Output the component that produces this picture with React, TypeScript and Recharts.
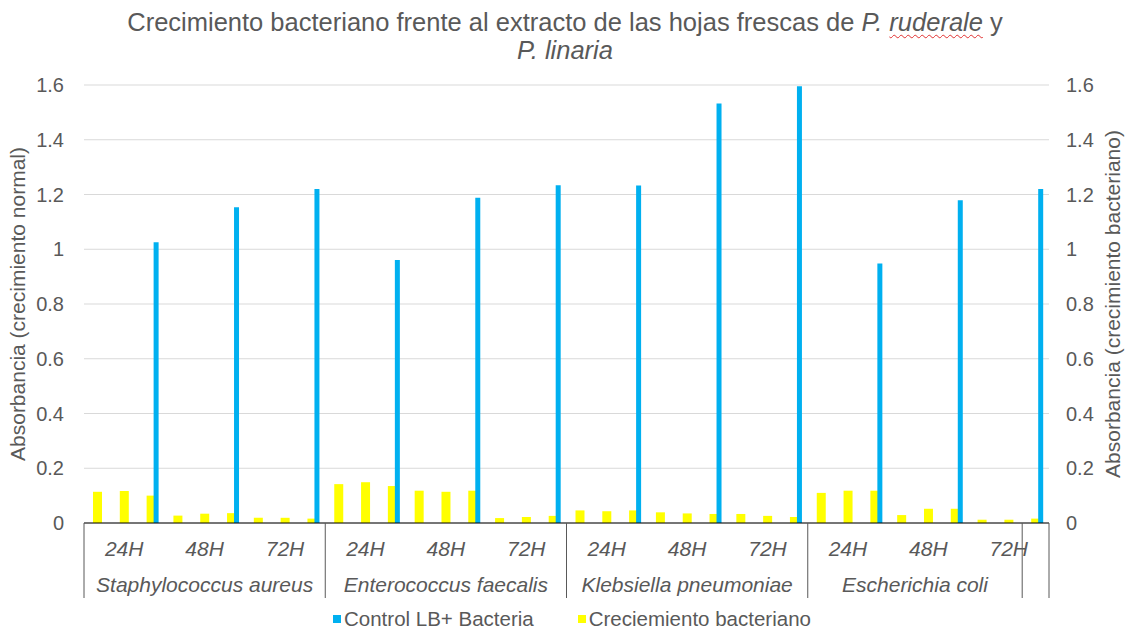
import React from "react";
import { BarChart, Bar, XAxis, YAxis, CartesianGrid, Legend } from "recharts";

const bacteria = ["Staphylococcus aureus", "Enterococcus faecalis", "Klebsiella pneumoniae", "Escherichia coli"];
const times = ["24H", "48H", "72H"];
// Control LB+ Bacteria: one value per bacterium x time (drawn on 3rd replicate slot)
const controlLB = [1.026, 1.153, 1.22, 0.961, 1.188, 1.234, 1.233, 1.532, 1.595, 0.948, 1.179, 1.22];
// Creciemiento bacteriano: 3 replicates per bacterium x time
const growth = [
  0.114, 0.117, 0.1, 0.027, 0.034, 0.036, 0.019, 0.019, 0.016,
  0.142, 0.149, 0.135, 0.118, 0.114, 0.118, 0.018, 0.022, 0.026,
  0.046, 0.043, 0.046, 0.039, 0.035, 0.033, 0.033, 0.026, 0.022,
  0.11, 0.118, 0.118, 0.029, 0.052, 0.052, 0.012, 0.012, 0.016,
];
// outer category level as drawn (last slot falls in a separate blank group)
const groupLabels = [...bacteria, ""];
const groupSpans = [9, 9, 9, 8, 1];
const yTicks = [0, 0.2, 0.4, 0.6, 0.8, 1, 1.2, 1.4, 1.6];
const seriesNames = ["Control LB+ Bacteria", "Creciemiento bacteriano"];
const seriesColors = ["#00B0F0", "#FFFF00"];

const data = [];
for (let b = 0; b < bacteria.length; b++) {
  for (let t = 0; t < times.length; t++) {
    for (let r = 0; r < 3; r++) {
      const i = b * 9 + t * 3 + r;
      data.push({
        id: `c${i}`,
        time: times[t],
        growth: growth[i],
        control: r === 2 ? controlLB[b * 3 + t] : null,
      });
    }
  }
}

const groupStarts: number[] = [];
{
  let acc = 0;
  for (const s of groupSpans) {
    groupStarts.push(acc);
    acc += s;
  }
}

const FONT = "'Liberation Sans', Arial, sans-serif";
const TEXT = "#595959";

const CategoryTick = (props: any) => {
  const { x, y, payload } = props;
  const index = props.index ?? payload.index;
  const half = payload.offset ?? 13.4;
  const items: React.ReactNode[] = [];
  if (index % 3 === 1) {
    items.push(
      <text key="t" x={x} y={y + 33} textAnchor="middle" fontSize={21} fontStyle="italic" fill={TEXT} fontFamily={FONT}>
        {data[index].time}
      </text>
    );
  }
  const g = groupStarts.indexOf(index);
  if (g >= 0) {
    const left = x - half;
    items.push(<line key="l" x1={left} x2={left} y1={y} y2={y + 75} stroke="#595959" strokeWidth={1} />);
    if (groupLabels[g]) {
      items.push(
        <text key="g" x={left + groupSpans[g] * half} y={y + 69} textAnchor="middle" fontSize={21} fontStyle="italic" fill={TEXT} fontFamily={FONT}>
          {groupLabels[g]}
        </text>
      );
    }
  }
  if (index === data.length - 1) {
    items.push(<line key="r" x1={x + half} x2={x + half} y1={y} y2={y + 75} stroke="#595959" strokeWidth={1} />);
  }
  return <g>{items}</g>;
};

const LegendContent = (p: any) => {
  const entries = (p.payload || []).filter((e: any) => seriesNames.includes(e.value));
  entries.sort((a: any, b: any) => seriesNames.indexOf(a.value) - seriesNames.indexOf(b.value));
  return (
    <div style={{ display: "flex", alignItems: "center", fontFamily: FONT, fontSize: 20.5, color: TEXT, whiteSpace: "nowrap" }}>
      {entries.map((e: any, i: number) => (
        <div key={i} style={{ display: "flex", alignItems: "center", marginRight: 44 }}>
          <span style={{ display: "inline-block", width: 8, height: 8, background: e.color, marginRight: 3 }} />
          <span>{e.value}</span>
        </div>
      ))}
    </div>
  );
};

export default function App() {
  return (
    <div style={{ position: "absolute", left: 0, top: 0, width: 1130, height: 633, background: "#fff" }}>
      <div
        style={{
          position: "absolute",
          left: 0,
          top: 8,
          width: 1130,
          textAlign: "center",
          fontFamily: FONT,
          fontSize: 25.5,
          lineHeight: "28px",
          color: TEXT,
          zIndex: 2,
        }}
      >
        Crecimiento bacteriano frente al extracto de las hojas frescas de{" "}
        <i>
          P.{" "}
          <span style={{ textDecoration: "underline wavy #e03030", textDecorationThickness: "1px", textUnderlineOffset: "3px" }}>
            ruderale
          </span>
        </i>{" "}
        y
        <br />
        <i>P. linaria</i>
      </div>
      <BarChart
        width={1130}
        height={633}
        data={data}
        margin={{ top: 85, right: 0, bottom: 30, left: 0 }}
        barGap={6}
      >
        <CartesianGrid xAxisId="a" yAxisId="left" vertical={false} stroke="#D9D9D9" strokeWidth={1} />
        <XAxis
          xAxisId="a"
          dataKey="id"
          interval={0}
          height={80}
          tickLine={false}
          tickSize={0}
          tickMargin={0}
          axisLine={{ stroke: "#000", strokeWidth: 1 }}
          tick={<CategoryTick />}
        />
        <XAxis xAxisId="b" dataKey="id" hide />
        <YAxis
          yAxisId="left"
          orientation="left"
          width={84}
          domain={[0, 1.6]}
          ticks={yTicks}
          axisLine={false}
          tickLine={false}
          tickSize={0}
          tickMargin={20}
          tick={{ fontSize: 20, fill: TEXT, fontFamily: FONT }}
          label={{
            value: "Absorbancia (crecimiento normal)",
            angle: -90,
            position: "center",
            dx: -24,
            style: { fontSize: 21, fill: TEXT, fontFamily: FONT },
          }}
        />
        <YAxis
          yAxisId="right"
          orientation="right"
          width={81}
          domain={[0, 1.6]}
          ticks={yTicks}
          axisLine={false}
          tickLine={false}
          tickSize={0}
          tickMargin={17}
          tick={{ fontSize: 20, fill: TEXT, fontFamily: FONT }}
          label={{
            value: "Absorbancia (crecimiento bacteriano)",
            angle: -90,
            position: "center",
            dx: 23,
            style: { fontSize: 21, fill: TEXT, fontFamily: FONT },
          }}
        />
        <Bar
          xAxisId="a"
          yAxisId="right"
          dataKey="growth"
          name={seriesNames[1]}
          fill={seriesColors[1]}
          barSize={9}
          isAnimationActive={false}
        />
        <Bar xAxisId="b" yAxisId="left" dataKey="spacer" name="spacer" fill="transparent" barSize={5} legendType="none" isAnimationActive={false} />
        <Bar
          xAxisId="b"
          yAxisId="left"
          dataKey="control"
          name={seriesNames[0]}
          fill={seriesColors[0]}
          barSize={5}
          isAnimationActive={false}
        />
        <Legend
          layout="horizontal"
          verticalAlign="middle"
          align="center"
          wrapperStyle={{ top: 607, left: 333, width: 600, height: 24 }}
          content={<LegendContent />}
        />
      </BarChart>
    </div>
  );
}
